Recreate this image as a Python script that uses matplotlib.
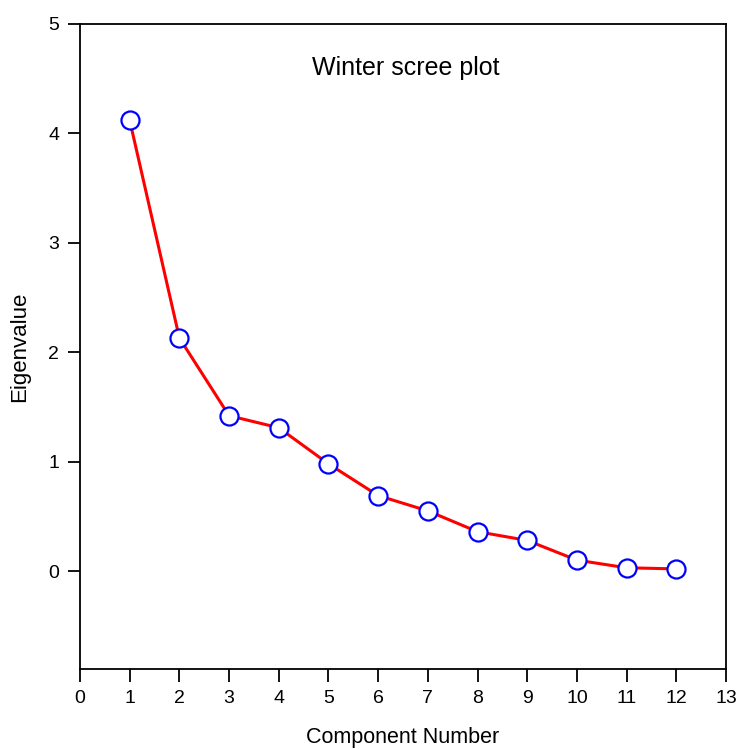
import matplotlib
matplotlib.use("Agg")
import matplotlib.pyplot as plt

plt.rcParams['font.family'] = ['Liberation Sans', 'DejaVu Sans']

components = [1, 2, 3, 4, 5, 6, 7, 8, 9, 10, 11, 12]
eigenvalues = [4.12, 2.13, 1.42, 1.31, 0.98, 0.69, 0.55, 0.36, 0.28, 0.10, 0.03, 0.02]
xticks = list(range(0, 14))
yticks = [0, 1, 2, 3, 4, 5]

fig = plt.figure(figsize=(7.40, 7.49), dpi=100)
ax = fig.add_axes([80/740, 1-669/749, (726-80)/740, (669-24)/749])
ax.plot(components, eigenvalues, color='red', lw=2.2, marker='o', ms=13,
        mfc='white', mec='blue', mew=1.6, zorder=3)
ax.set_xlim(0, 13)
ax.set_ylim(-0.895, 5)
ax.set_xticks(xticks)
ax.set_yticks(yticks)
ax.tick_params(direction='out', length=9, width=1.3, labelsize=14, pad=6)
ax.tick_params(top=False, right=False)
for s in ax.spines.values():
    s.set_linewidth(1.3)
ax.set_xlabel('Component Number', fontsize=15.5, va='center')
ax.xaxis.set_label_coords(0.5, -(738-669)/645)
ax.set_ylabel('Eigenvalue', fontsize=16, va='center')
ax.yaxis.set_label_coords(-(80-20)/646, 0.5)
ax.text(0.505, 0.932, 'Winter scree plot', transform=ax.transAxes, ha='center',
        va='center', fontsize=18)
fig.savefig('out.png', dpi=100)
